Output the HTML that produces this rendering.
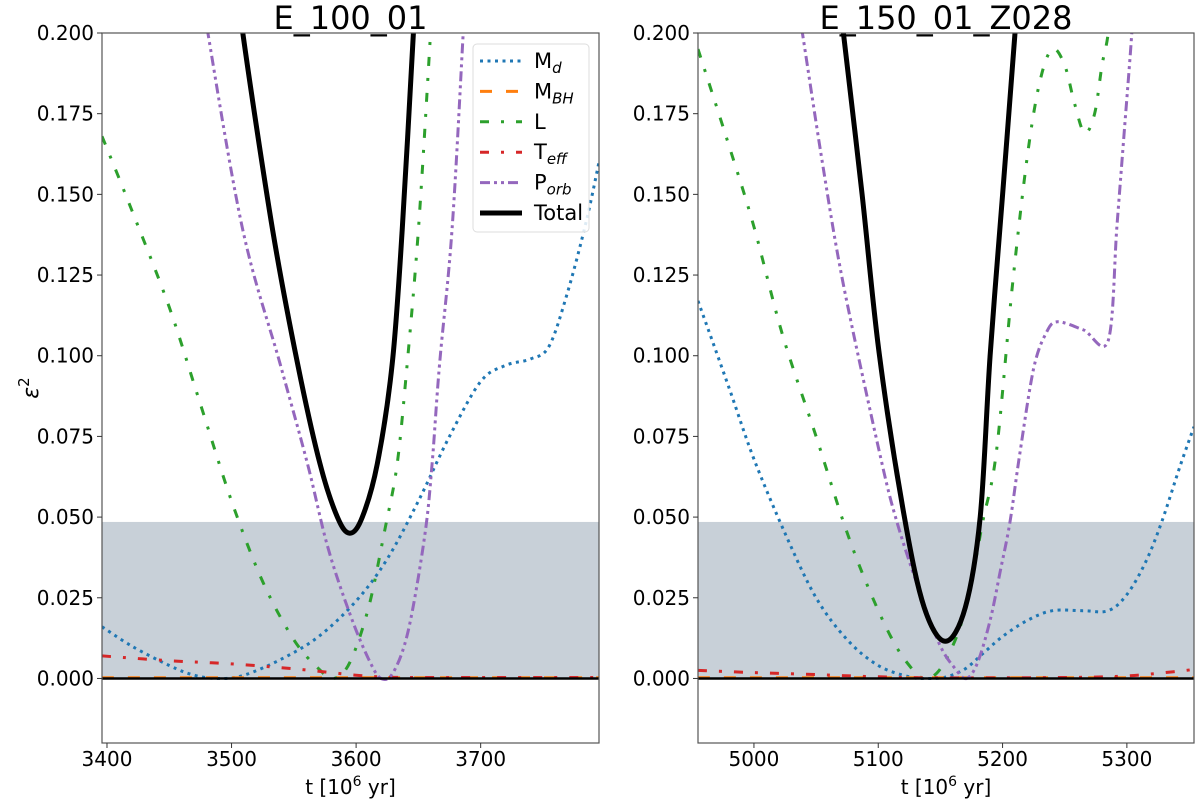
<!DOCTYPE html>
<html><head><meta charset="utf-8"><style>
body{margin:0;background:#fff;}
svg text{font-family:"DejaVu Sans","Liberation Sans",sans-serif;}
</style></head><body>
<svg id="chart" width="1200" height="807" xmlns="http://www.w3.org/2000/svg">
<defs>
<clipPath id="clipL"><rect x="102" y="33" width="497" height="710"/></clipPath>
<clipPath id="clipR"><rect x="698" y="33" width="496" height="710"/></clipPath>
</defs>
</svg>
<script>
// ---- data: left panel E_100_01 ----
const L_t_Md=[3396,3420,3450,3470,3490,3510,3540,3570,3600,3625,3650,3675,3700,3720,3740,3755,3770,3785,3795];
const L_v_Md=[0.016,0.01,0.004,0.001,0,0.001,0.006,0.013,0.024,0.037,0.055,0.075,0.092,0.097,0.099,0.103,0.12,0.142,0.16];
const L_t_L=[3396,3420,3450,3475,3500,3525,3550,3570,3582,3595,3610,3623,3633,3641,3650,3659,3664];
const L_v_L=[0.168,0.145,0.115,0.085,0.055,0.03,0.012,0.003,0,0.005,0.022,0.046,0.0665,0.0975,0.139,0.195,0.23];
const L_t_P=[3478,3481,3509,3539,3561,3577,3595,3610,3620,3630,3642,3655,3661,3667,3677,3686,3690];
const L_v_P=[0.21,0.2,0.139,0.0975,0.0665,0.041,0.02,0.006,0,0.002,0.015,0.044,0.0665,0.0975,0.139,0.2,0.23];
const L_t_T=[3396,3450,3500,3550,3600,3620,3650,3795];
const L_v_T=[0.007,0.0055,0.0045,0.003,0.001,0.0005,0.0003,0.0003];
const L_t_B=[3396,3795];
const L_v_B=[0.0002,0.0002];
const L_t_Tot=[3500,3509,3533,3553,3571,3585,3595,3605,3617,3629,3637,3646,3650];
const L_v_Tot=[0.23,0.2,0.139,0.0975,0.0665,0.05,0.045,0.05,0.0665,0.0975,0.139,0.2,0.23];
// ---- data: right panel E_150_01_Z028 ----
const R_t_Md=[4955,4980,5000,5025,5050,5075,5100,5125,5140,5155,5170,5185,5200,5220,5240,5265,5285,5300,5315,5328,5343,5354];
const R_v_Md=[0.117,0.09,0.068,0.045,0.025,0.012,0.004,0.0005,0,0.0005,0.003,0.008,0.013,0.018,0.021,0.021,0.021,0.026,0.036,0.0485,0.066,0.078];
const R_t_L=[4955,4980,5000,5023,5050,5072,5090,5110,5125,5137,5150,5165,5175,5184,5195,5208,5220,5230,5240,5250,5258,5266,5274,5280,5285,5290];
const R_v_L=[0.195,0.165,0.14,0.1065,0.075,0.0485,0.03,0.013,0.004,0,0.003,0.015,0.03,0.0485,0.07,0.122,0.162,0.185,0.195,0.19,0.178,0.169,0.175,0.19,0.2,0.22];
const R_t_P=[5035,5039,5055,5072,5101,5115,5135,5150,5162,5171,5180,5190,5198,5206,5214,5225,5235,5244,5265,5285,5292,5298,5304,5307];
const R_v_P=[0.21,0.2,0.16,0.122,0.07,0.0485,0.025,0.01,0.003,0,0.005,0.018,0.033,0.0485,0.07,0.096,0.107,0.1105,0.108,0.1047,0.14,0.17,0.2,0.22];
const R_t_T=[4955,5000,5050,5100,5150,5250,5300,5340,5354];
const R_v_T=[0.0025,0.0018,0.0012,0.0005,0.0002,0.0003,0.0008,0.0022,0.0028];
const R_t_B=[4955,5354];
const R_v_B=[0.0002,0.0002];
const R_t_Tot=[5066,5072,5087,5101,5121,5137,5154,5170,5182,5190,5200,5210,5213];
const R_v_Tot=[0.22,0.2,0.15,0.1,0.05,0.022,0.0115,0.022,0.05,0.1,0.15,0.2,0.22];
const yTicks=[0,0.025,0.05,0.075,0.1,0.125,0.15,0.175,0.2];
const yTickLabels=["0.000","0.025","0.050","0.075","0.100","0.125","0.150","0.175","0.200"];
const L_xTicks=[3400,3500,3600,3700];
const R_xTicks=[5000,5100,5200,5300];
const bandTop=0.0485;

const NS="http://www.w3.org/2000/svg";
const svg=document.getElementById('chart');
function mk(tag,attrs,parent){const e=document.createElementNS(NS,tag);for(const k in attrs)e.setAttribute(k,attrs[k]);(parent||svg).appendChild(e);return e;}
const Y0=-0.02,Y1=0.2,TOP=33,BOT=743;
function ys(v){return BOT-(v-Y0)/(Y1-Y0)*(BOT-TOP);}
function smooth(P){
  let d='M'+P[0][0].toFixed(1)+','+P[0][1].toFixed(1);
  for(let i=0;i<P.length-1;i++){
    const p0=P[i-1]||P[i],p1=P[i],p2=P[i+1],p3=P[i+2]||P[i+1];
    const c1=[p1[0]+(p2[0]-p0[0])/6,p1[1]+(p2[1]-p0[1])/6];
    const c2=[p2[0]-(p3[0]-p1[0])/6,p2[1]-(p3[1]-p1[1])/6];
    d+=' C'+c1[0].toFixed(1)+','+c1[1].toFixed(1)+' '+c2[0].toFixed(1)+','+c2[1].toFixed(1)+' '+p2[0].toFixed(1)+','+p2[1].toFixed(1);
  }
  return d;
}

const styles={
 Md:{stroke:'#1f77b4',w:3,dash:'3,4.5',name:'md-line'},
 B:{stroke:'#ff7f0e',w:3,dash:'12,14',name:'mbh-line'},
 L:{stroke:'#2ca02c',w:3,dash:'9,12,3,12',name:'l-line'},
 T:{stroke:'#d62728',w:3,dash:'9,12,3,12',name:'teff-line'},
 P:{stroke:'#9467bd',w:3,dash:'10,4,3,4,3,4',name:'porb-line'},
 Tot:{stroke:'#000',w:5,dash:'',name:'total-line'}
};

function panel(px0,px1,x0,x1,title,clip,series,xt,side){
  const xs=t=>px0+(t-x0)/(x1-x0)*(px1-px0);
  const g=mk('g',{});
  
  
  const band=mk('rect',{x:px0,y:ys(bandTop),width:px1-px0,height:ys(0)-ys(bandTop),fill:'#c8d0d8'},g);
  
  
  const cg=mk('g',{'clip-path':'url(#'+clip+')'},g);
  for(const s of series){
    const st=styles[s.k];
    const pts=s.t.map((t,i)=>[xs(t),ys(s.v[i])]);
    const p=mk('path',{d:smooth(pts),fill:'none',stroke:st.stroke,'stroke-width':st.w,'stroke-dasharray':st.dash,'stroke-linejoin':'round'},cg);
    
    
  }
  const zl=mk('line',{x1:px0,x2:px1,y1:ys(0),y2:ys(0),stroke:'#000','stroke-width':2.5},g);
  
  
  const fr=mk('rect',{x:px0,y:TOP,width:px1-px0,height:BOT-TOP,fill:'none',stroke:'#555','stroke-width':1.2},g);
  
  
  yTicks.forEach((v,i)=>{
    mk('line',{x1:px0-5,x2:px0,y1:ys(v),y2:ys(v),stroke:'#333','stroke-width':1},g);
    const tx=mk('text',{x:px0-8,y:ys(v)+7,'text-anchor':'end','font-size':20,fill:'#000'},g);
    tx.textContent=yTickLabels[i];
    
    
  });
  xt.forEach(t=>{
    mk('line',{x1:xs(t),x2:xs(t),y1:BOT,y2:BOT+5,stroke:'#333','stroke-width':1},g);
    const tx=mk('text',{x:xs(t),y:BOT+23,'text-anchor':'middle','font-size':20,fill:'#000'},g);
    tx.textContent=t;
    
    
  });
  const xl=mk('text',{x:(px0+px1)/2,y:BOT+51,'text-anchor':'middle','font-size':20,fill:'#000'},g);
  xl.innerHTML='t [10<tspan dy="-8" font-size="14">6</tspan><tspan dy="8"> yr]</tspan>';
  
  
  const ti=mk('text',{x:(px0+px1)/2,y:29,'text-anchor':'middle','font-size':32,fill:'#000'},g);
  ti.textContent=title;
  
  
}

panel(102,599,3396,3795,'E_100_01','clipL',[
 {k:'Md',t:L_t_Md,v:L_v_Md},{k:'B',t:L_t_B,v:L_v_B},{k:'L',t:L_t_L,v:L_v_L},
 {k:'T',t:L_t_T,v:L_v_T},{k:'P',t:L_t_P,v:L_v_P},{k:'Tot',t:L_t_Tot,v:L_v_Tot}],L_xTicks,'left');
panel(698,1194,4955,5354,'E_150_01_Z028','clipR',[
 {k:'Md',t:R_t_Md,v:R_v_Md},{k:'B',t:R_t_B,v:R_v_B},{k:'L',t:R_t_L,v:R_v_L},
 {k:'T',t:R_t_T,v:R_v_T},{k:'P',t:R_t_P,v:R_v_P},{k:'Tot',t:R_t_Tot,v:R_v_Tot}],R_xTicks,'right');

// y axis title
const yl=mk('text',{x:0,y:0,'text-anchor':'middle','font-size':22,fill:'#000',transform:'translate(38,388) rotate(-90)'});
yl.innerHTML='<tspan font-style="italic">ε</tspan><tspan dy="-9" font-size="15">2</tspan>';



// legend
const lg=mk('g',{});


mk('rect',{x:473,y:44,width:116,height:188,rx:4,fill:'#fff','fill-opacity':0.85,stroke:'#ddd','stroke-width':1},lg);
const legKeys=['Md','B','L','T','P','Tot'];
const legLabels=[['M','d'],['M','BH'],['L',''],['T','eff'],['P','orb'],['Total','']];
legKeys.forEach((k,i)=>{
  const y=61+i*30.4;const st=styles[k];
  const ent=mk('g',{},lg);
  
  
  mk('line',{x1:480,x2:522,y1:y,y2:y,stroke:st.stroke,'stroke-width':st.w,'stroke-dasharray':st.dash},ent);
  const tx=mk('text',{x:534,y:y+7,'font-size':21,fill:'#000'},ent);
  tx.innerHTML=legLabels[i][0]+(legLabels[i][1]?'<tspan dy="5" font-size="15" font-style="italic">'+legLabels[i][1]+'</tspan>':'');
});
</script>
</body></html>
